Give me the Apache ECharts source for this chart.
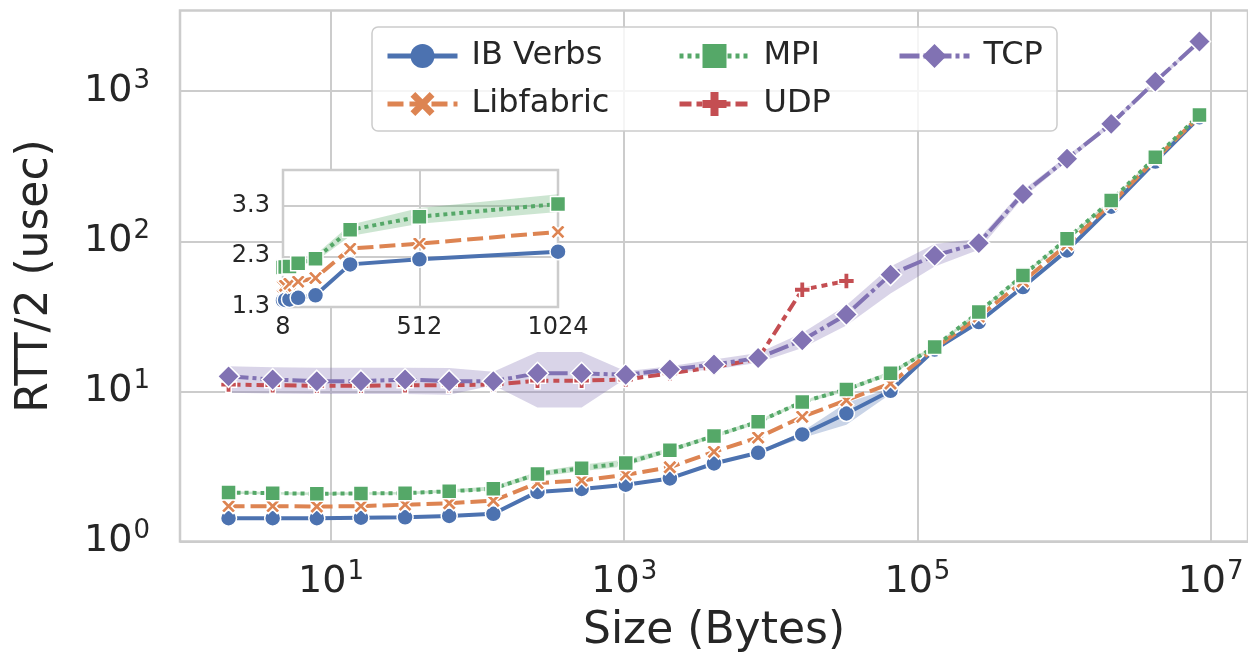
<!DOCTYPE html>
<html>
<head>
<meta charset="utf-8">
<script src="https://cdn.jsdelivr.net/npm/echarts@6/dist/echarts.min.js"></script>
<style>
html, body { margin: 0; padding: 0; background: #fff; }
#chart { width: 1248px; height: 670px; }
</style>
</head>
<body>
<div id="chart"></div>
<script>
// Message sizes in bytes (powers of two)
const sizes = [2, 4, 8, 16, 32, 64, 128, 256, 512, 1024, 2048, 4096, 8192, 16384,
  32768, 65536, 131072, 262144, 524288, 1048576, 2097152, 4194304, 8388608];

// Half round-trip latency (usec)
const ibVerbs = [1.43, 1.43, 1.43, 1.44, 1.45, 1.48, 1.53, 2.14, 2.24, 2.39, 2.63, 3.31,
  3.90, 5.17, 7.13, 10.1, 19.0, 29.0, 49.6, 87, 170, 340, 670];
const libfabric = [1.72, 1.72, 1.71, 1.72, 1.76, 1.80, 1.87, 2.45, 2.55, 2.78, 3.12, 3.96,
  4.93, 6.77, 8.74, 11.3, 19.3, 31.5, 54, 95, 178, 352, 682];
const mpi = [2.12, 2.10, 2.08, 2.09, 2.10, 2.16, 2.25, 2.82, 3.08, 3.33, 4.06, 5.04,
  6.27, 8.51, 10.3, 13.2, 19.8, 33.8, 59.3, 104, 187, 363, 695];
const udp = [11.1, 11.0, 10.9, 10.9, 11.0, 11.0, 11.1, 11.8, 11.8, 12.0, 13.2, 14.5,
  16.5, 47.6, 54.4];
const tcp = [12.6, 12.0, 11.7, 11.7, 12.0, 11.7, 11.7, 13.2, 13.2, 12.9, 14.0, 15.1,
  16.7, 21.9, 32.5, 60.0, 80.5, 97.3, 207, 355, 606, 1159, 2148];

// Confidence bands
const tcpLow = [9.8, 9.7, 9.6, 9.6, 9.6, 9.5, 11.0, 7.8, 7.8, 12.2, 13.3, 14.0,
  15.5, 19.5, 27.5, 45, 68, 88, 195, 340, 585, 1120, 2080];
const tcpHigh = [14.7, 14.5, 14.4, 14.4, 14.4, 14.3, 13.5, 18.3, 18.3, 13.6, 14.7, 16.3,
  18.0, 24.5, 37.5, 68, 96, 104, 220, 370, 630, 1200, 2220];
const mpiLow = [2.08, 2.06, 2.04, 2.05, 2.06, 2.12, 2.19, 2.70, 2.94, 3.17, 3.95, 4.9,
  6.1, 8.3, 10.0, 12.8, 19.3, 33.0, 58, 102, 183, 356, 682];
const mpiHigh = [2.16, 2.14, 2.12, 2.13, 2.14, 2.22, 2.33, 2.92, 3.25, 3.52, 4.2, 5.2,
  6.45, 8.7, 10.6, 13.6, 20.3, 34.6, 60.6, 106, 191, 370, 708];
const ibBandSizes = [8192, 16384, 32768, 65536, 131072];
const ibLow = [3.85, 4.9, 6.0, 9.6, 18.8];
const ibHigh = [3.95, 5.4, 8.4, 10.5, 19.2];

// Axis ticks
const xTicks = [10, 1000, 100000, 10000000];
const yTicks = [1, 10, 100, 1000];
const insetXTicks = [8, 512, 1024];
const insetYTicks = [1.3, 2.3, 3.3];

const FONT = 'DejaVu Sans';
const INK = '#262626';
const GRIDC = '#cccccc';
const C = { ib: '#4C72B0', lf: '#DD8452', mpi: '#55A868', udp: '#C44E52', tcp: '#8172B3' };

const SYM_X = 'path://M0,2 L2,0 L5,3 L8,0 L10,2 L7,5 L10,8 L8,10 L5,7 L2,10 L0,8 L3,5 Z';
const SYM_P = 'path://M2,0 L4,0 L4,2 L6,2 L6,4 L4,4 L4,6 L2,6 L2,4 L0,4 L0,2 L2,2 Z';

const pairs = (xs, ys) => ys.map((y, i) => [xs[i], y]);

const supLabel = v => '{b|10}{s|' + Math.round(Math.log10(v)) + '}';
const supRich = {
  b: { fontSize: 38, fontFamily: FONT, color: INK },
  s: { fontSize: 26, fontFamily: FONT, color: INK, padding: [0, 0, 20, 1] }
};

function lineSeries(name, data, color, symbol, size, dash, axis) {
  return {
    type: 'line', name: name, data: data,
    xAxisIndex: axis, yAxisIndex: axis,
    z: axis === 0 ? 2 : 5,
    clip: true,
    symbol: symbol, symbolSize: size, showAllSymbol: true,
    lineStyle: { color: color, width: 4, type: dash },
    itemStyle: { color: color, borderColor: '#fff', borderWidth: 1.5 },
    emphasis: { disabled: true }
  };
}

function bandSeries(xs, lo, hi, color, axis) {
  return {
    type: 'custom', silent: true, clip: true,
    xAxisIndex: axis, yAxisIndex: axis,
    z: axis === 0 ? 1 : 4,
    data: xs.map((x, i) => [x, lo[i], hi[i]]),
    encode: { x: 0, y: [1, 2] },
    renderItem: function (params, api) {
      if (params.dataIndex !== 0) return null;
      const pts = [];
      for (let i = 0; i < xs.length; i++) pts.push(api.coord([xs[i], hi[i]]));
      for (let i = xs.length - 1; i >= 0; i--) pts.push(api.coord([xs[i], lo[i]]));
      return { type: 'polygon', shape: { points: pts }, style: { fill: color, opacity: 0.3 } };
    }
  };
}

const allSeries = [
  bandSeries(sizes, tcpLow, tcpHigh, C.tcp, 0),
  bandSeries(sizes, mpiLow, mpiHigh, C.mpi, 0),
  bandSeries(ibBandSizes, ibLow, ibHigh, C.ib, 0),
  lineSeries('IB Verbs', pairs(sizes, ibVerbs), C.ib, 'circle', 16, 'solid', 0),
  lineSeries('Libfabric', pairs(sizes, libfabric), C.lf, SYM_X, 15, [16, 6], 0),
  lineSeries('MPI', pairs(sizes, mpi), C.mpi, 'rect', 15, [4, 4], 0),
  lineSeries('UDP', pairs(sizes, udp), C.udp, SYM_P, 16, [12, 5, 6, 5], 0),
  lineSeries('TCP', pairs(sizes, tcp), C.tcp, 'diamond', 22, [20, 4, 4, 4], 0),
  // zoomed view of the small-message region
  bandSeries(sizes, mpiLow, mpiHigh, C.mpi, 1),
  lineSeries('IB Verbs', pairs(sizes, ibVerbs), C.ib, 'circle', 16, 'solid', 1),
  lineSeries('Libfabric', pairs(sizes, libfabric), C.lf, SYM_X, 15, [16, 6], 1),
  lineSeries('MPI', pairs(sizes, mpi), C.mpi, 'rect', 15, [4, 4], 1)
];

const legendCommon = {
  orient: 'vertical', top: 35, itemWidth: 70, itemHeight: 30, itemGap: 16,
  selectedMode: false, z: 12,
  lineStyle: { width: 5 },
  itemStyle: { borderWidth: 0 },
  textStyle: { fontFamily: FONT, fontSize: 32, color: INK, lineHeight: 32, padding: [0, 0, 0, 9] }
};

const chart = echarts.init(document.getElementById('chart'), null, { renderer: 'canvas' });
chart.setOption({
  animation: false,
  backgroundColor: '#fff',
  grid: [
    { left: 180, top: 10.5, right: 0, bottom: 128.5, show: true, borderColor: GRIDC,
      borderWidth: 2.5, backgroundColor: '#fff', outerBoundsMode: 'none', containLabel: false },
    { left: 283, top: 170, width: 275, height: 137, show: true, borderColor: GRIDC,
      borderWidth: 2.5, backgroundColor: '#fff', z: 3, outerBoundsMode: 'none', containLabel: false }
  ],
  xAxis: [
    {
      type: 'log', logBase: 10, gridIndex: 0,
      min: Math.pow(10, -0.0301), max: Math.pow(10, 7.2548),
      name: 'Size (Bytes)', nameLocation: 'middle', nameGap: 68,
      nameTextStyle: { fontFamily: FONT, fontSize: 44, color: INK },
      axisLine: { show: false },
      axisTick: { show: false, customValues: xTicks },
      axisLabel: { customValues: xTicks, formatter: supLabel, rich: supRich, margin: 18 },
      splitLine: { show: true, lineStyle: { color: GRIDC, width: 2 } },
      minorSplitLine: { show: false }
    },
    {
      type: 'value', gridIndex: 1, min: 8, max: 1024, z: 3,
      axisLine: { show: false },
      axisTick: { show: false, customValues: insetXTicks },
      axisLabel: { customValues: insetXTicks, fontFamily: FONT, fontSize: 24, color: INK, margin: 9,
        formatter: v => String(v) },
      splitLine: { show: true, lineStyle: { color: GRIDC, width: 2 } }
    }
  ],
  yAxis: [
    {
      type: 'log', logBase: 10, gridIndex: 0,
      min: 1, max: Math.pow(10, 3.538),
      name: 'RTT/2 (usec)', nameLocation: 'middle', nameGap: 122,
      nameTextStyle: { fontFamily: FONT, fontSize: 44, color: INK },
      axisLine: { show: false },
      axisTick: { show: false, customValues: yTicks },
      axisLabel: { customValues: yTicks, formatter: supLabel, rich: supRich, margin: 30 },
      splitLine: { show: true, lineStyle: { color: GRIDC, width: 2 } },
      minorSplitLine: { show: false }
    },
    {
      type: 'value', gridIndex: 1, min: 1.3, max: 4.0, z: 3,
      axisLine: { show: false },
      axisTick: { show: false, customValues: insetYTicks },
      axisLabel: { customValues: insetYTicks, fontFamily: FONT, fontSize: 24, color: INK, margin: 13,
        formatter: v => v.toFixed(1) },
      splitLine: { show: true, lineStyle: { color: GRIDC, width: 2 } }
    }
  ],
  graphic: [
    { type: 'rect', z: 10, silent: true,
      shape: { x: 372, y: 27, width: 685, height: 104, r: 6 },
      style: { fill: 'rgba(255,255,255,0.8)', stroke: GRIDC, lineWidth: 1.5 } }
  ],
  legend: [
    Object.assign({ left: 380, data: ['IB Verbs', 'Libfabric'] }, legendCommon),
    Object.assign({ left: 672, data: ['MPI', 'UDP'] }, legendCommon),
    Object.assign({ left: 892, data: ['TCP'] }, legendCommon)
  ],
  series: allSeries
});
</script>
</body>
</html>
